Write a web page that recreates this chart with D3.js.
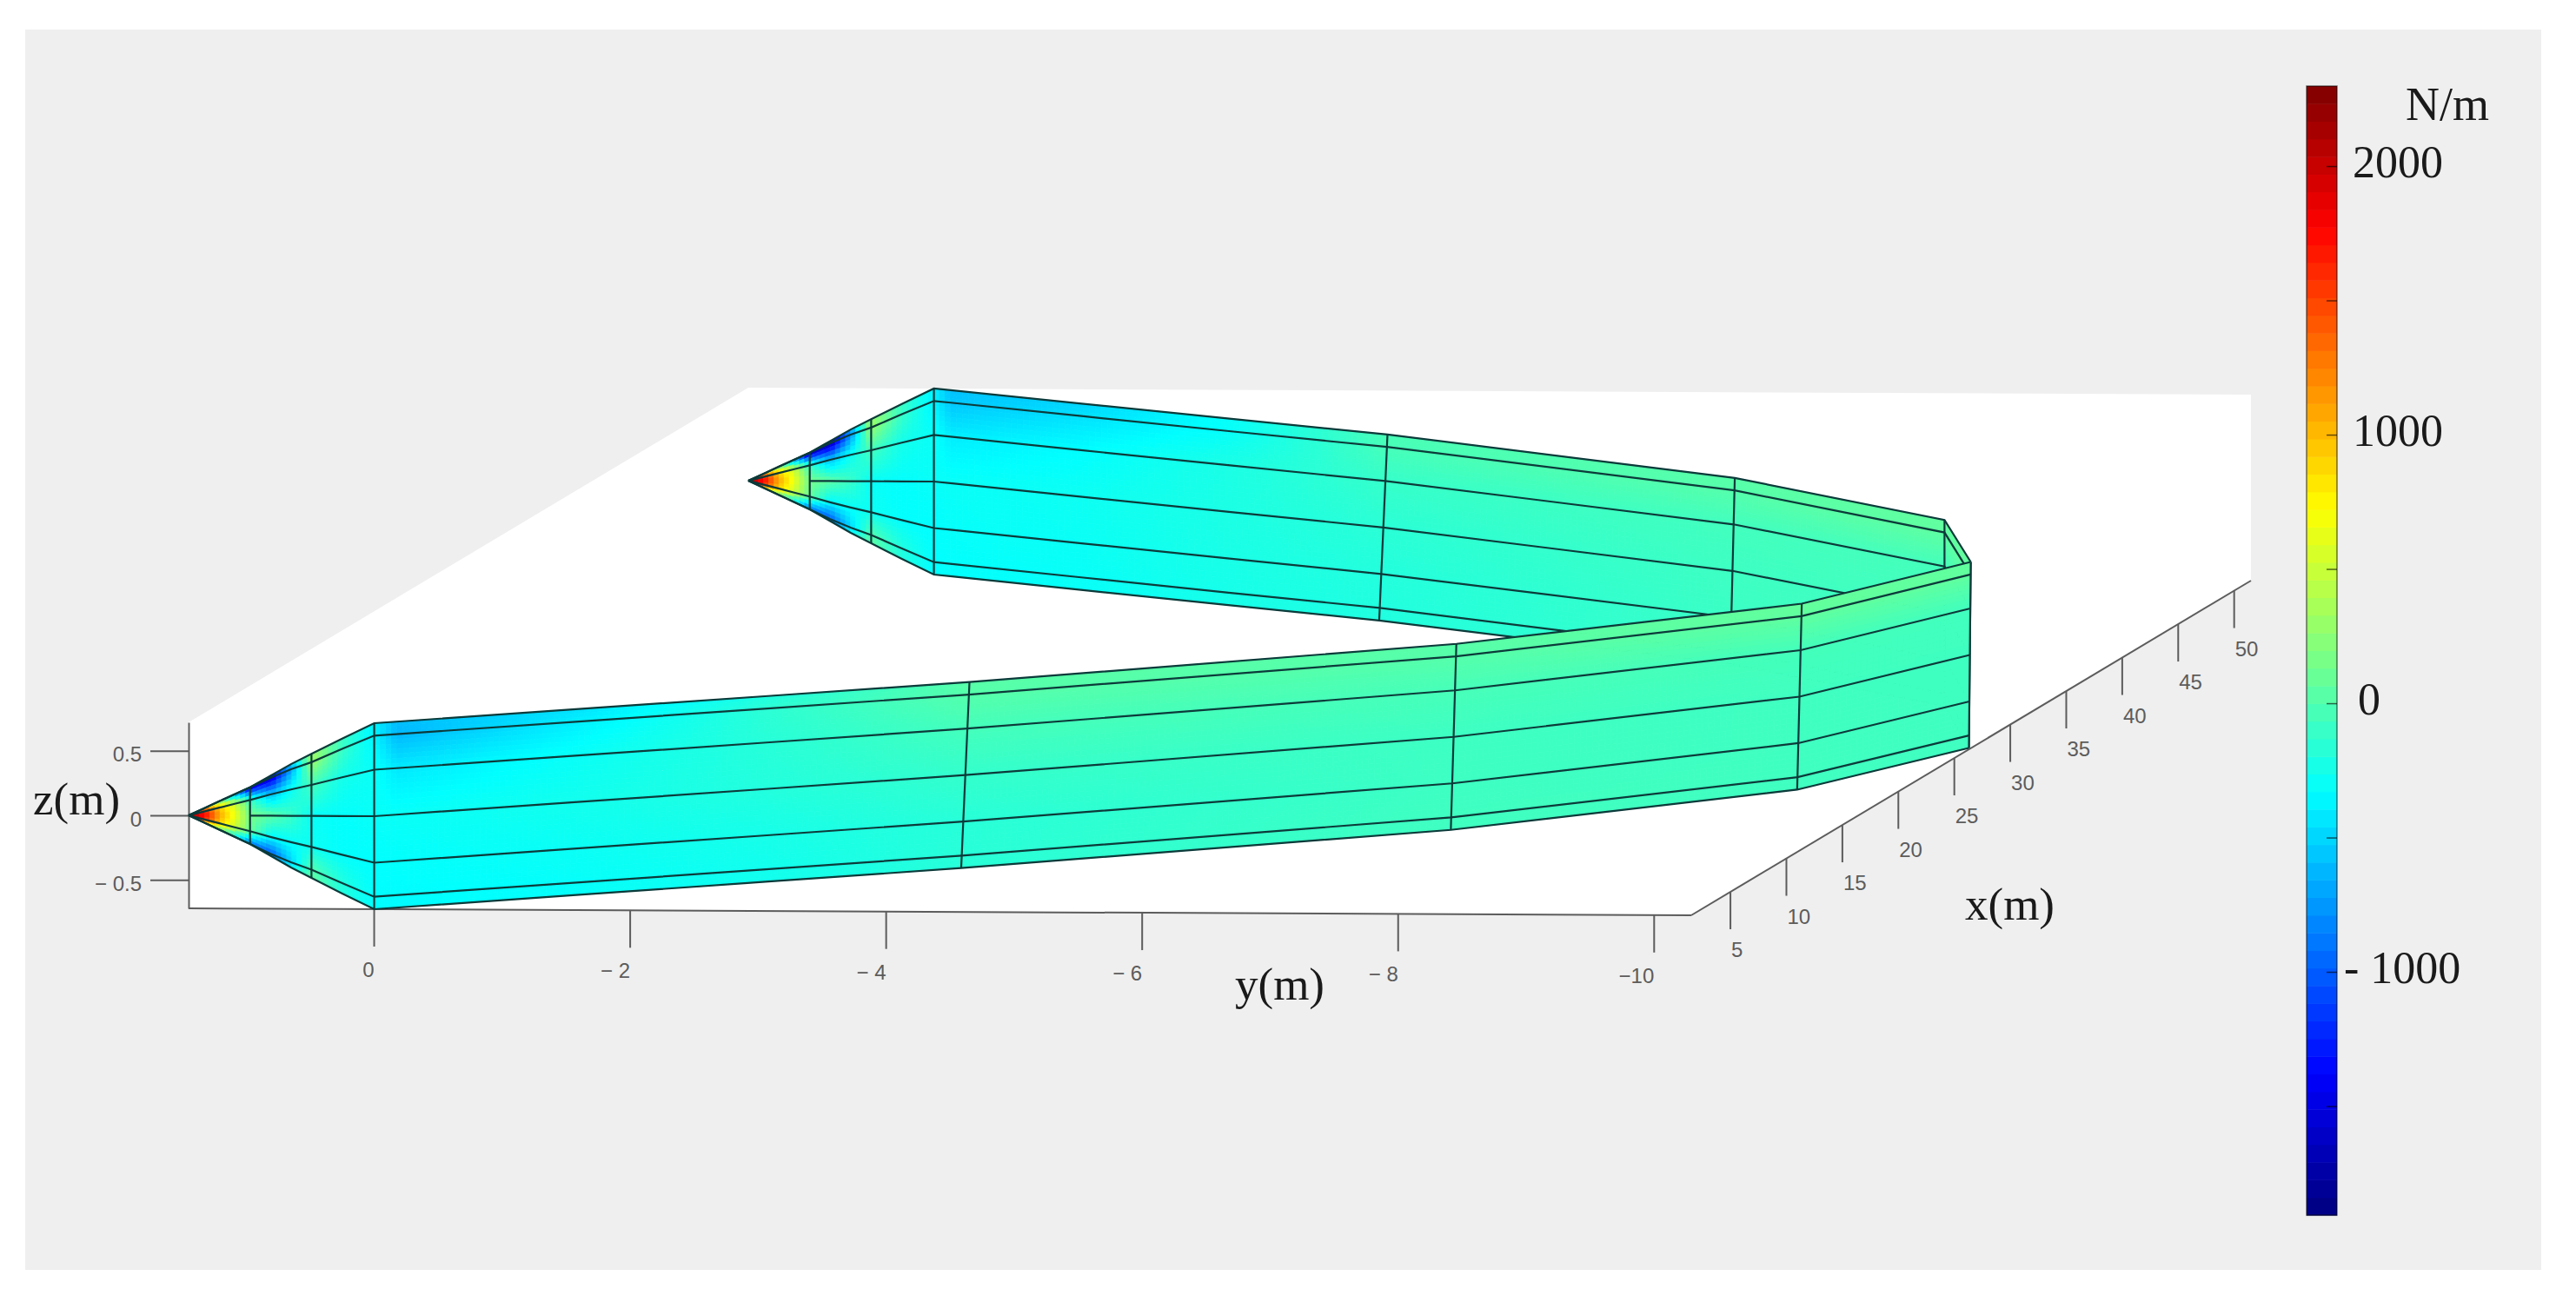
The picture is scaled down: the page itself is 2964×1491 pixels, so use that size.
<!DOCTYPE html>
<html>
<head>
<meta charset="utf-8">
<script src="https://cdn.jsdelivr.net/npm/d3@7"></script>
<style>
  body { margin: 0; background: #fff; }
  svg { display: block; }
  .tick-3d { font-family: "Liberation Sans Narrow", "Liberation Sans", sans-serif; font-size: 24px; fill: #5c5c5c; }
  .axis-label { font-family: "Liberation Serif", serif; font-size: 53px; fill: #1a1a1a; }
  .bar-label { font-family: "Liberation Serif", serif; font-size: 52px; fill: #1a1a1a; }
</style>
</head>
<body>
<svg width="2964" height="1491"></svg>
<script>
// axis ticks
const xTicks = [5, 10, 15, 20, 25, 30, 35, 40, 45, 50];
const yTicks = [0, -2, -4, -6, -8, -10];
const yTickLabels = ['0', '− 2', '− 4', '− 6', '− 8', '−10'];
const zTicks = [-0.5, 0, 0.5];
const zTickLabels = ['− 0.5', '0', '0.5'];
const barTicks = [-1500, -1000, -500, 0, 500, 1000, 1500, 2000];
const barLabels = [[2000, '2000'], [1000, '1000'], [0, '0'], [-1000, '- 1000']];

// box limits and colour limits
const xLim = [1.5, 51.5];
const yLim = [1.45, -10.29];
const zLim = [-0.72, 0.72];
const valueLim = [-1906, 2298];

// stations along the strip, from the far nose round the bend to the near nose
const stationX = [51.5, 51.5, 51.5, 51.5, 51.5, 51.5, 51.5, 51.5, 51.5, 51.5, 51.26, 49.33, 47.17, 45, 38.8, 32.7,
  26.5,
  20.2, 14, 8, 5.83, 3.67, 1.74, 1.5, 1.5, 1.5, 1.5, 1.5, 1.5, 1.5, 1.5, 1.5, 1.5];
const stationY = [1.45, 1.33, 1.21, 1.09, 0.97, 0.81, 0.65, 0.49, 0.25, 0, -0.15, -1.35, -2.7, -4.08, -7.35, -9.54,
  -10.28,
  -9.5, -7.34, -4.05, -2.7, -1.35, -0.15, 0, 0.25, 0.49, 0.65, 0.81, 0.97, 1.09, 1.21, 1.33, 1.45];
const stationHalfZ = [0, 0.055, 0.11, 0.165, 0.22, 0.31, 0.4, 0.48, 0.6, 0.72, 0.72, 0.72, 0.72, 0.72, 0.72, 0.72,
  0.72,
  0.72, 0.72, 0.72, 0.72, 0.72, 0.72, 0.72, 0.6, 0.48, 0.4, 0.31, 0.22, 0.165, 0.11, 0.055, 0];
const stationLean = [0, 0, 0, 0, 0, 0, 0, 0, 0, 0, 0.004, 0.015, 0.03, 0.045, 0.025, 0,
  0.01,
  0.025, 0.03, 0.045, 0.03, 0.015, 0.004, 0, 0, 0, 0, 0, 0, 0, 0, 0, 0];
const stationDrawn = [0, 0, 0, 0, 1, 0, 0, 1, 0, 1, 0, 0, 0, 1, 1, 1,
  1,
  1, 1, 1, 0, 0, 0, 1, 0, 1, 0, 0, 1, 0, 0, 0, 0];
const row2Frac = [1, 1, 1, 1, 1, 0.95, 0.9, 0.866, 0.866, 0.866, 0.866, 0.866, 0.866, 0.866, 0.866, 0.866,
  0.866,
  0.866, 0.866, 0.866, 0.866, 0.866, 0.866, 0.866, 0.866, 0.866, 0.9, 0.95, 1, 1, 1, 1, 1];
const row3Frac = [0.55, 0.55, 0.55, 0.55, 0.55, 0.53, 0.51, 0.5, 0.5, 0.5, 0.5, 0.5, 0.5, 0.5, 0.5, 0.5,
  0.5,
  0.5, 0.5, 0.5, 0.5, 0.5, 0.5, 0.5, 0.5, 0.5, 0.51, 0.53, 0.55, 0.55, 0.55, 0.55, 0.55];

// N/m at each station, one array per line of the strip, top to bottom
const valuesTop = [2300, 1000, 200, -700, -1500, -1500, -700, 300, -100, -380, -580, -500, -300, -30, 30, 70,
  70,
  80, 30, 30, -200, -450, -600, -380, -100, 300, -500, -1300, -1400, -700, 200, 1000, 2300];
const valuesRow2 = [2300, 1000, 200, -700, -1750, -1750, -800, 300, -100, -380, -560, -450, -300, -40, 20, 60,
  70,
  70, 20, 20, -150, -400, -620, -380, -100, 300, -700, -1600, -1600, -700, 200, 1000, 2300];
const valuesRow3 = [2300, 1600, 900, 500, -100, -600, -300, -50, -250, -300, -400, -330, -220, -110, -60, -50,
  -60,
  -50, -40, -50, -170, -300, -420, -300, -250, -50, -300, -600, -100, 500, 900, 1600, 2300];
const valuesMid = [2300, 1800, 1100, 650, 150, 50, -100, -300, -320, -300, -300, -280, -220, -160, -80, -60,
  -70,
  -70, -80, -120, -190, -260, -300, -300, -320, -300, -100, 50, 150, 650, 1100, 1800, 2300];
const valuesRow5 = [2300, 1600, 900, 500, 100, -350, -300, -280, -320, -330, -310, -290, -230, -190, -90, -60,
  -70,
  -70, -80, -170, -240, -290, -320, -330, -320, -280, -300, -350, 100, 500, 900, 1600, 2300];
const valuesRow6 = [2300, 900, 200, -300, -900, -1000, -500, 0, -200, -330, -320, -300, -240, -200, -90, -60,
  -70,
  -70, -70, -170, -260, -310, -340, -330, -200, 0, -500, -1000, -900, -300, 200, 900, 2300];
const valuesBottom = [2300, 900, 200, -300, -900, -800, -300, 50, -200, -330, -320, -300, -240, -200, -80, -50,
  -70,
  -70, -70, -170, -260, -310, -340, -330, -200, 50, -300, -800, -1000, -300, 200, 900, 2300];
const valueRows = [valuesTop, valuesRow2, valuesRow3, valuesMid, valuesRow5, valuesRow6, valuesBottom];

const svg = d3.select('svg');

// orthographic view: every data axis adds its own screen offset
const yToScreenX = d3.scaleLinear().domain(yLim).range([217, 1946]);
const yToScreenY = d3.scaleLinear().domain(yLim).range([938, 946]);
const xToScreenX = d3.scaleLinear().domain(xLim).range([0, 644]);
const xToScreenY = d3.scaleLinear().domain(xLim).range([0, -385]);
const zToScreenY = d3.scaleLinear().domain(zLim).range([107, -107]);
const project = (x, y, z) => [
  yToScreenX(y) + xToScreenX(x),
  yToScreenY(y) + xToScreenY(x) + zToScreenY(z)
];

// jet
const jet = d3.scaleLinear()
  .domain([0, 0.125, 0.375, 0.625, 0.875, 1].map(t => valueLim[0] + t * (valueLim[1] - valueLim[0])))
  .range(['#00007f', '#0000ff', '#00ffff', '#ffff00', '#ff0000', '#7f0000'])
  .clamp(true);

// background panel and the white box walls
svg.append('rect')
  .attr('x', 29).attr('y', 34)
  .attr('width', 2895).attr('height', 1427)
  .attr('fill', '#efefef');

const boxCorners = [
  project(xLim[0], yLim[0], zLim[1]),
  project(xLim[1], yLim[0], zLim[1]),
  project(xLim[1], yLim[1], zLim[1]),
  project(xLim[1], yLim[1], zLim[0]),
  project(xLim[0], yLim[1], zLim[0]),
  project(xLim[0], yLim[0], zLim[0])
];
svg.append('polygon')
  .attr('points', boxCorners.join(' '))
  .attr('fill', '#fff');

// axis lines, ticks and tick labels of the box
const axisColor = '#5c5c5c';
const axes = svg.append('g');
const axisLine = (a, b) => axes.append('line')
  .attr('x1', a[0]).attr('y1', a[1])
  .attr('x2', b[0]).attr('y2', b[1])
  .attr('stroke', axisColor)
  .attr('stroke-width', 2);
axisLine(project(xLim[0], yLim[0], zLim[0]), project(xLim[0], yLim[1], zLim[0]));
axisLine(project(xLim[0], yLim[1], zLim[0]), project(xLim[1], yLim[1], zLim[0]));

const tickLength = 43;
const yBase = d => project(xLim[0], d, zLim[0]);
const xBase = d => project(d, yLim[1], zLim[0]);

axes.selectAll('.y-tick').data(yTicks).enter().append('line')
  .attr('class', 'y-tick')
  .attr('x1', d => yBase(d)[0]).attr('x2', d => yBase(d)[0])
  .attr('y1', d => yBase(d)[1]).attr('y2', d => yBase(d)[1] + tickLength)
  .attr('stroke', axisColor).attr('stroke-width', 2);
axes.selectAll('.y-label').data(yTicks).enter().append('text')
  .attr('class', 'y-label tick-3d')
  .attr('x', d => yBase(d)[0])
  .attr('y', d => yBase(d)[1] + tickLength + 35)
  .attr('text-anchor', 'end')
  .text((d, i) => yTickLabels[i]);

axes.selectAll('.x-tick').data(xTicks).enter().append('line')
  .attr('class', 'x-tick')
  .attr('x1', d => xBase(d)[0]).attr('x2', d => xBase(d)[0])
  .attr('y1', d => xBase(d)[1]).attr('y2', d => xBase(d)[1] + tickLength)
  .attr('stroke', axisColor).attr('stroke-width', 2);
axes.selectAll('.x-label').data(xTicks).enter().append('text')
  .attr('class', 'x-label tick-3d')
  .attr('x', d => xBase(d)[0] + 1)
  .attr('y', d => xBase(d)[1] + tickLength + 32)
  .text(d => d);

const zAxisScale = d3.scaleLinear()
  .domain(zLim)
  .range([project(xLim[0], yLim[0], zLim[0])[1], project(xLim[0], yLim[0], zLim[1])[1]]);
const zAxis = axes.append('g')
  .attr('transform', `translate(${yToScreenX(yLim[0])}, 0)`)
  .call(d3.axisLeft(zAxisScale)
    .tickValues(zTicks)
    .tickFormat((d, i) => zTickLabels[i])
    .tickSize(44)
    .tickSizeOuter(0)
    .tickPadding(10));
zAxis.selectAll('line, path').attr('stroke', axisColor).attr('stroke-width', 2);
zAxis.selectAll('text').attr('class', 'tick-3d').attr('font-family', null).attr('dy', '0.5em');

// strip geometry: where a station/line pair sits in the box
const rowFrac = (i, r) => [1, row2Frac[i], row3Frac[i], 0, -row3Frac[i], -row2Frac[i], -1][r];
const pointAt = (i, r) => {
  const z = stationHalfZ[i] * rowFrac(i, r);
  return project(stationX[i], stationY[i] - stationLean[i] * z, z);
};
const lerp = (a, b, t) => a + (b - a) * t;
const lerpPoint = (a, b, t) => [lerp(a[0], b[0], t), lerp(a[1], b[1], t)];

const drawPatch = (g, i) => {
  const patches = [];
  d3.range(valueRows.length - 1).forEach(r => {
    const p00 = pointAt(i, r), p10 = pointAt(i + 1, r);
    const p01 = pointAt(i, r + 1), p11 = pointAt(i + 1, r + 1);
    const nu = Math.max(1, Math.ceil(Math.abs(p10[0] - p00[0]) / 7));
    const nv = Math.max(1, Math.ceil(Math.max(p01[1] - p00[1], p11[1] - p10[1]) / 6));
    const corner = (u, v) => lerpPoint(lerpPoint(p00, p10, u), lerpPoint(p01, p11, u), v);
    const value = (u, v) => lerp(
      lerp(valueRows[r][i], valueRows[r][i + 1], u),
      lerp(valueRows[r + 1][i], valueRows[r + 1][i + 1], u),
      v);
    d3.range(nu).forEach(a => d3.range(nv).forEach(b => {
      const u0 = a / nu, u1 = (a + 1) / nu, v0 = b / nv, v1 = (b + 1) / nv;
      patches.push({
        points: [corner(u0, v0), corner(u1, v0), corner(u1, v1), corner(u0, v1)].join(' '),
        value: value((u0 + u1) / 2, (v0 + v1) / 2)
      });
    }));
  });
  g.selectAll(null).data(patches).enter().append('polygon')
    .attr('points', d => d.points)
    .attr('fill', d => jet(d.value))
    .attr('stroke', d => jet(d.value))
    .attr('stroke-width', 0.8);
};

const gridColor = '#0c3a3a';
const drawGrid = (g, from, to) => {
  const line = d3.line();
  valueRows.forEach((row, r) => {
    const idx = d3.range(from, to + 1)
      .filter(i => r !== 3 || (stationHalfZ[i] >= 0.22)); // centre line starts at the first station
    g.append('path')
      .attr('d', line(idx.map(i => pointAt(i, r))))
      .attr('fill', 'none')
      .attr('stroke', gridColor)
      .attr('stroke-width', 2.2);
  });
  d3.range(from, to + 1).filter(i => stationDrawn[i]).forEach(i => {
    g.append('path')
      .attr('d', line(d3.range(valueRows.length).map(r => pointAt(i, r))))
      .attr('fill', 'none')
      .attr('stroke', gridColor)
      .attr('stroke-width', 2.2);
  });
};

// far half first, near half on top of it
const bend = stationX.indexOf(26.5);
const farHalf = svg.append('g');
d3.range(0, bend).forEach(i => drawPatch(farHalf, i));
drawGrid(farHalf, 0, bend);
const nearHalf = svg.append('g');
d3.range(bend, stationX.length - 1).forEach(i => drawPatch(nearHalf, i));
drawGrid(nearHalf, bend, stationX.length - 1);

// colour bar, 64 levels like the original colormap
const barY = d3.scaleLinear().domain(valueLim).range([1398, 99]);
const levels = d3.range(64);
const levelValue = d3.scaleLinear().domain([0, 64]).range(valueLim);
const bar = svg.append('g');
bar.selectAll('rect').data(levels).enter().append('rect')
  .attr('x', 2654)
  .attr('width', 35)
  .attr('y', d => barY(levelValue(d + 1)))
  .attr('height', d => barY(levelValue(d)) - barY(levelValue(d + 1)) + 0.5)
  .attr('fill', d => jet(levelValue(d + 0.5)));
bar.append('rect')
  .attr('x', 2654).attr('y', 99)
  .attr('width', 35).attr('height', 1299)
  .attr('fill', 'none')
  .attr('stroke', '#000')
  .attr('stroke-opacity', 0.55)
  .attr('stroke-width', 1.5);

const barAxis = bar.append('g')
  .attr('transform', 'translate(2689, 0)')
  .call(d3.axisLeft(barY).tickValues(barTicks).tickSize(12).tickSizeOuter(0).tickFormat(''));
barAxis.select('.domain').remove();
barAxis.selectAll('line').attr('stroke', '#000').attr('stroke-opacity', 0.6).attr('stroke-width', 1.5);

const barLabelX = d => d === 0 ? 2713 : (d < 0 ? 2697 : 2707);
bar.selectAll('.bar-label').data(barLabels).enter().append('text')
  .attr('class', 'bar-label')
  .attr('x', d => barLabelX(d[0]))
  .attr('y', d => barY(d[0]) + 13)
  .text(d => d[1]);

// labels
svg.append('text').attr('class', 'bar-label').attr('x', 2768).attr('y', 138).style('font-size', '54px').text('N/m');
svg.append('text').attr('class', 'axis-label').attr('x', 38).attr('y', 937).text('z(m)');
svg.append('text').attr('class', 'axis-label').attr('x', 1421).attr('y', 1150).text('y(m)');
svg.append('text').attr('class', 'axis-label').attr('x', 2261).attr('y', 1058).text('x(m)');
</script>
</body>
</html>
